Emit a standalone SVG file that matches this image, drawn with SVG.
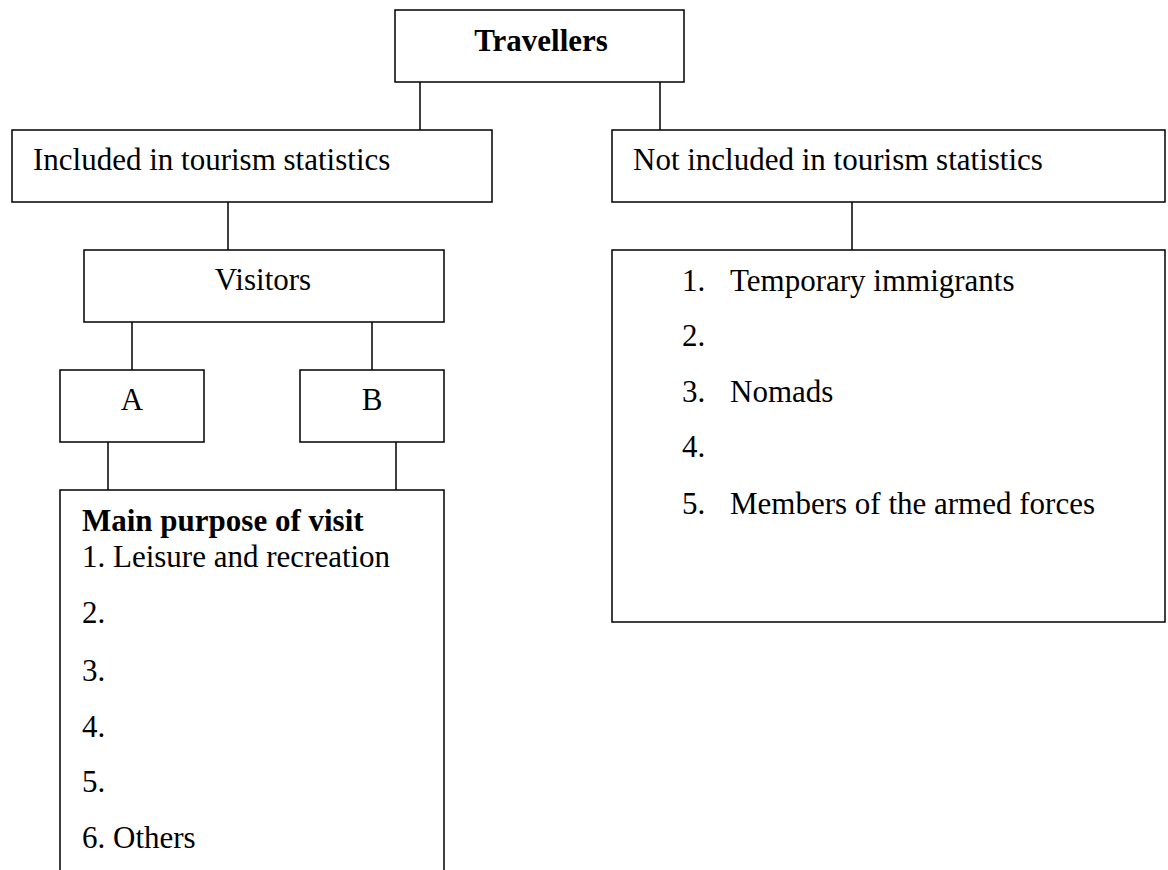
<svg xmlns="http://www.w3.org/2000/svg" width="1168" height="870" viewBox="0 0 1168 870">
<style>
.box{fill:#fff;stroke:#000;stroke-width:1.5}
.ln{stroke:#000;stroke-width:1.5;fill:none}
text{font-family:"Liberation Serif","Times New Roman",serif;font-size:31px;fill:#000}
.b{font-weight:bold}
.c{text-anchor:middle}
</style>
<rect width="1168" height="870" fill="#fff"/>
<g id="connectors">
<line class="ln" x1="420" y1="82" x2="420" y2="130"/>
<line class="ln" x1="660" y1="82" x2="660" y2="130"/>
<line class="ln" x1="228" y1="202" x2="228" y2="250"/>
<line class="ln" x1="852" y1="202" x2="852" y2="250"/>
<line class="ln" x1="132" y1="322" x2="132" y2="370"/>
<line class="ln" x1="372" y1="322" x2="372" y2="370"/>
<line class="ln" x1="108" y1="442" x2="108" y2="490"/>
<line class="ln" x1="396" y1="442" x2="396" y2="490"/>
</g>
<g id="travellers">
<rect class="box" x="395" y="10" width="289" height="72"/>
<text class="b c" x="541" y="51">Travellers</text>
</g>
<g id="included">
<rect class="box" x="12" y="130" width="480" height="72"/>
<text x="33" y="170">Included in tourism statistics</text>
</g>
<g id="not-included">
<rect class="box" x="612" y="130" width="553" height="72"/>
<text x="633" y="170">Not included in tourism statistics</text>
</g>
<g id="visitors">
<rect class="box" x="84" y="250" width="360" height="72"/>
<text class="c" x="263" y="290">Visitors</text>
</g>
<g id="not-included-list">
<rect class="box" x="612" y="250" width="553" height="372"/>
<text x="682" y="291">1.</text><text x="730" y="291">Temporary immigrants</text>
<text x="682" y="346">2.</text>
<text x="682" y="402">3.</text><text x="730" y="402">Nomads</text>
<text x="682" y="457">4.</text>
<text x="682" y="514">5.</text><text x="730" y="514">Members of the armed forces</text>
</g>
<g id="a">
<rect class="box" x="60" y="370" width="144" height="72"/>
<text class="c" x="132" y="410">A</text>
</g>
<g id="b">
<rect class="box" x="300" y="370" width="144" height="72"/>
<text class="c" x="372" y="410">B</text>
</g>
<g id="main-purpose">
<rect class="box" x="60" y="490" width="384" height="420"/>
<text class="b" x="82" y="531">Main purpose of visit</text>
<text x="82" y="567">1. Leisure and recreation</text>
<text x="82" y="623">2.</text>
<text x="82" y="681">3.</text>
<text x="82" y="737">4.</text>
<text x="82" y="792">5.</text>
<text x="82" y="848">6. Others</text>
</g>
</svg>
